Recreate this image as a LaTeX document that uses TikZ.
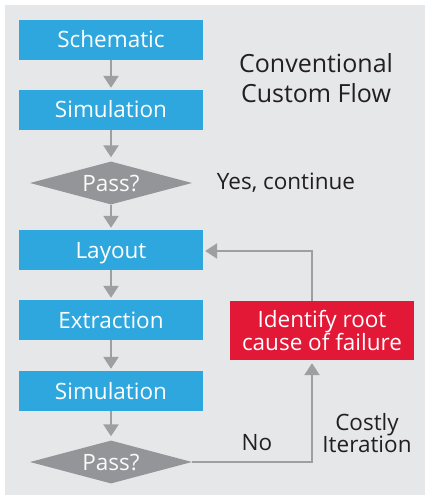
\documentclass[tikz,border=0pt]{standalone}
\usepackage{fontspec}
\setmainfont{Open Sans}
\usepackage{tikz}
\usetikzlibrary{positioning,arrows.meta,shapes.geometric}

\definecolor{fondo}{HTML}{E6E7E8}
\definecolor{azul}{HTML}{2EA7DF}
\definecolor{rojo}{HTML}{E31837}
\definecolor{gris}{HTML}{939598}
\definecolor{gflecha}{HTML}{9D9FA2}
\definecolor{texto}{HTML}{231F20}

\begin{document}
\begin{tikzpicture}[x=1pt,y=-1pt,
  %%Configuración
  every node/.style = {font=\fontsize{22.5}{22}\selectfont},
  paso/.style   = {fill=azul, text=white, minimum width=184pt,
    minimum height=40pt, inner sep=0pt, text height=16pt, text depth=0pt},
  prueba/.style = {diamond, fill=gris, text=white!95!gris, aspect=3.8,
    minimum width=162pt, minimum height=43pt, inner sep=0pt,
    text height=16pt, text depth=0pt},
  falla/.style  = {fill=rojo, text=white, minimum width=184pt,
    minimum height=59pt, inner sep=0pt, align=center},
  nota/.style   = {text=texto, align=center},
  flecha/.style = {draw=gflecha, line width=2.5pt,
    -{Triangle[width=15pt,length=12pt]}}
]
\useasboundingbox (0,0) rectangle (425,497);
\fill[fondo] (5,5) rectangle (425,495);
%%Nodos
\node[paso] (esquema) at (111,40) {Schematic};
\node[paso] (simul1) at (111,110) {Simulation};
\node[prueba] (pasa1) at (111,183) {Pass?};
\node[paso] (layout) at (111,250) {Layout};
\node[paso] (extrac) at (111,320) {Extraction};
\node[paso] (simul2) at (111,391) {Simulation};
\node[prueba] (pasa2) at (111,462) {Pass?};
\node[falla] (causa) at (322,330.5) {Identify root\\cause of failure};
\coordinate (retorno) at (312,251);
%%Textos
\node[nota, font=\fontsize{25}{30}\selectfont] (titulo) at (316,78) {Conventional\\Custom Flow};
\node[nota] (sigue) at (286,183) {Yes, continue};
\node[nota] (no) at (257,443) {No};
\node[nota] (costo) at (367,433) {Costly\\Iteration};
%%Flechas
\draw[flecha, shorten >=2pt] (esquema) -- (simul1);
\draw[flecha, shorten >=4pt] (simul1) -- (pasa1);
\draw[flecha, shorten >=2pt] (pasa1) -- (layout);
\draw[flecha, shorten >=2pt] (layout) -- (extrac);
\draw[flecha, shorten >=2pt] (extrac) -- (simul2);
\draw[flecha, shorten >=4pt] (simul2) -- (pasa2);
\draw[flecha, shorten >=3pt] (pasa2.east) -| (causa.south -| retorno);
\draw[flecha, shorten >=2pt] (causa.north -| retorno) -- (retorno) -- (layout.east |- retorno);
\end{tikzpicture}
\end{document}
